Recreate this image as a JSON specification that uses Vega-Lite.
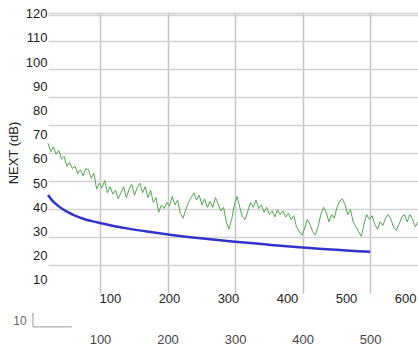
{
  "$schema": "https://vega.github.io/schema/vega-lite/v6.json",
  "width": 370,
  "height": 281,
  "autosize": {"type": "none"},
  "padding": {"left": 48, "top": 12, "right": 0, "bottom": 56},
  "background": "white",
  "config": {"view": {"stroke": null}, "font": "Liberation Sans", "axis": {"labelOverlap": false, "labelFontSize": 13}},
  "datasets": {
    "green": [
      {"f":23,"v":66.5},{"f":27,"v":63},{"f":31,"v":65},{"f":35,"v":62},{"f":39,"v":63.5},{"f":43,"v":60},{"f":47,"v":61},{"f":51,"v":57},{"f":55,"v":58.5},{"f":59,"v":56},
      {"f":63,"v":57},{"f":67,"v":54},{"f":71,"v":55.5},{"f":75,"v":53},{"f":79,"v":56},{"f":83,"v":55.5},{"f":87,"v":52},{"f":91,"v":54},{"f":95,"v":47.5},{"f":99,"v":50},
      {"f":103,"v":48},{"f":107,"v":51},{"f":111,"v":46},{"f":115,"v":48.5},{"f":119,"v":45.5},{"f":123,"v":47},{"f":127,"v":43.5},{"f":131,"v":46},{"f":135,"v":48.5},{"f":139,"v":44},
      {"f":143,"v":47.5},{"f":147,"v":49.5},{"f":151,"v":45},{"f":155,"v":48},{"f":159,"v":50},{"f":163,"v":46},{"f":167,"v":48.5},{"f":171,"v":44},{"f":175,"v":47},{"f":179,"v":42},
      {"f":183,"v":44},{"f":187,"v":38},{"f":191,"v":41},{"f":195,"v":39.5},{"f":199,"v":42},{"f":203,"v":40.5},{"f":207,"v":44.5},{"f":211,"v":41},{"f":215,"v":43},{"f":219,"v":37.5},
      {"f":223,"v":35.5},{"f":227,"v":39},{"f":231,"v":42},{"f":235,"v":44},{"f":239,"v":46},{"f":243,"v":43},{"f":247,"v":45},{"f":251,"v":41},{"f":255,"v":43.5},{"f":259,"v":40},
      {"f":263,"v":42.5},{"f":267,"v":40},{"f":271,"v":44},{"f":275,"v":41.5},{"f":279,"v":38.5},{"f":283,"v":40},{"f":287,"v":34},{"f":291,"v":31},{"f":295,"v":35},{"f":299,"v":41},
      {"f":303,"v":44.5},{"f":307,"v":40},{"f":311,"v":36},{"f":315,"v":35},{"f":319,"v":38.5},{"f":323,"v":42},{"f":327,"v":40},{"f":331,"v":43},{"f":335,"v":39.5},{"f":339,"v":41},
      {"f":343,"v":38},{"f":347,"v":40},{"f":351,"v":37},{"f":355,"v":38.5},{"f":359,"v":36},{"f":363,"v":39},{"f":367,"v":37},{"f":371,"v":38.5},{"f":375,"v":36},{"f":379,"v":37.5},
      {"f":383,"v":35},{"f":387,"v":36.5},{"f":391,"v":32},{"f":395,"v":30},{"f":399,"v":28.5},{"f":403,"v":31},{"f":407,"v":35},{"f":411,"v":33},{"f":415,"v":30},{"f":419,"v":28.5},
      {"f":423,"v":32},{"f":427,"v":37},{"f":431,"v":40},{"f":435,"v":38},{"f":439,"v":34},{"f":443,"v":37},{"f":447,"v":35.5},{"f":451,"v":40},{"f":455,"v":42.5},{"f":459,"v":43.5},
      {"f":463,"v":41},{"f":467,"v":37},{"f":471,"v":39},{"f":475,"v":34},{"f":479,"v":32},{"f":483,"v":30},{"f":487,"v":28},{"f":491,"v":33},{"f":495,"v":37},{"f":499,"v":35},
      {"f":503,"v":36.5},{"f":507,"v":33},{"f":511,"v":31},{"f":515,"v":34},{"f":519,"v":32.5},{"f":523,"v":35.5},{"f":527,"v":37},{"f":531,"v":35},{"f":535,"v":31.5},{"f":539,"v":30.5},
      {"f":543,"v":33},{"f":547,"v":36},{"f":551,"v":37},{"f":555,"v":34},{"f":559,"v":37},{"f":563,"v":35},{"f":567,"v":32},{"f":571,"v":34}
    ],
    "blue": [
      {"f":23,"v":45.1},{"f":27,"v":43.6},{"f":32,"v":42},{"f":38,"v":40.6},{"f":45,"v":39.2},{"f":53,"v":37.9},{"f":62,"v":36.7},{"f":75,"v":35.3},{"f":88,"v":34.3},{"f":100,"v":33.5},{"f":120,"v":32.3},{"f":140,"v":31.3},
      {"f":170,"v":30},{"f":201,"v":28.8},{"f":245,"v":27.3},{"f":296,"v":25.9},{"f":344,"v":24.7},{"f":386,"v":23.7},{"f":430,"v":22.8},{"f":465,"v":22.2},{"f":500,"v":21.6}
    ],
    "xlab": [{"f":100},{"f":200},{"f":300},{"f":400},{"f":500},{"f":600}],
    "ylab": [{"y":10},{"y":60},{"y":120}],
    "hgrid": [{"g":1},{"g":5},{"g":10}],
    "bracket": [{"a":0.7,"b":58.5,"top":-3.6,"bot":-9.4,"lx":-18.5,"ly":-6.9,"lab":"10"}]
  },
  "layer": [
    {
      "layer": [
        {
          "data": {"name": "green"},
          "mark": {"type": "line", "color": "#52a652", "strokeWidth": 1},
          "encoding": {
            "x": {"field": "f", "type": "quantitative",
              "scale": {"domain": [23, 571], "nice": false, "zero": false},
              "axis": {"orient": "bottom", "offset": 40, "values": [100,200,300,400,500], "title": null, "labelOverlap": false,
                "domain": false, "ticks": false, "labelPadding": 0, "labelFontSize": 13, "labelColor": "#444", "grid": false}},
            "y": {"field": "v", "type": "quantitative",
              "scale": {"domain": [4.6, 120.7], "nice": false, "zero": false},
              "axis": null}
          }
        },
        {
          "data": {"name": "blue"},
          "mark": {"type": "line", "color": "#3333cc", "strokeWidth": 2.5, "interpolate": "monotone"},
          "encoding": {
            "x": {"field": "f", "type": "quantitative"},
            "y": {"field": "v", "type": "quantitative", "axis": null}
          }
        },
        {
          "data": {"name": "bracket"},
          "mark": {"type": "rule", "color": "#999", "strokeWidth": 1, "clip": false},
          "encoding": {
            "x": {"field": "a", "type": "quantitative"},
            "x2": {"field": "b"},
            "y": {"field": "bot", "type": "quantitative", "axis": null}
          }
        },
        {
          "data": {"name": "bracket"},
          "mark": {"type": "rule", "color": "#999", "strokeWidth": 1, "clip": false},
          "encoding": {
            "x": {"field": "a", "type": "quantitative"},
            "y": {"field": "top", "type": "quantitative", "axis": null},
            "y2": {"field": "bot"}
          }
        },
        {
          "data": {"name": "bracket"},
          "mark": {"type": "text", "color": "#666", "fontSize": 12, "clip": false},
          "encoding": {
            "x": {"field": "lx", "type": "quantitative"},
            "y": {"field": "ly", "type": "quantitative", "axis": null},
            "text": {"field": "lab"}
          }
        }
      ]
    },
    {
      "data": {"name": "ylab"},
      "mark": {"type": "point", "opacity": 0},
      "encoding": {
        "y": {"field": "y", "type": "quantitative",
          "scale": {"domain": [4.6, 120.7], "nice": false, "zero": false},
          "axis": {"orient": "left", "values": [10,20,30,40,50,60,70,80,90,100,110,120], "labelOverlap": false, "grid": false, "domain": false, "ticks": false,
            "labelPadding": 1, "labelFontSize": 13, "labelColor": "#222",
            "title": "NEXT (dB)", "titleFontSize": 13, "titleFontWeight": "normal", "titleColor": "#222", "titlePadding": 5}}
      }
    },
    {
      "data": {"name": "xlab"},
      "mark": {"type": "point", "opacity": 0},
      "encoding": {
        "x": {"field": "f", "type": "quantitative",
          "scale": {"domain": [-5, 622], "nice": false, "zero": false},
          "axis": {"orient": "bottom", "offset": 0, "values": [100,200,300,400,500,600], "title": null, "labelOverlap": false,
            "domain": false, "ticks": false, "grid": false, "labelPadding": -1, "labelFontSize": 13, "labelColor": "#222"}}
      }
    },
    {
      "data": {"name": "xlab"},
      "mark": {"type": "point", "opacity": 0},
      "encoding": {
        "x": {"field": "f", "type": "quantitative",
          "scale": {"domain": [23, 571], "nice": false, "zero": false},
          "axis": {"orient": "top", "values": [100,200,300,400,500], "title": null, "labels": false,
            "domain": false, "ticks": false, "grid": true, "gridColor": "#c4c4c4", "gridWidth": 1.5}}
      }
    },
    {
      "data": {"name": "hgrid"},
      "mark": {"type": "point", "opacity": 0},
      "encoding": {
        "y": {"field": "g", "type": "quantitative",
          "scale": {"domain": [0, 10.036], "nice": false, "zero": false},
          "axis": {"orient": "right", "values": [1,2,3,4,5,6,7,8,9,9.93,10], "title": null, "labels": false,
            "domain": false, "ticks": false, "grid": true, "gridColor": "#d2d2d2", "gridWidth": 1.5}}
      }
    }
  ],
  "resolve": {"scale": {"x": "independent", "y": "independent"}}
}
